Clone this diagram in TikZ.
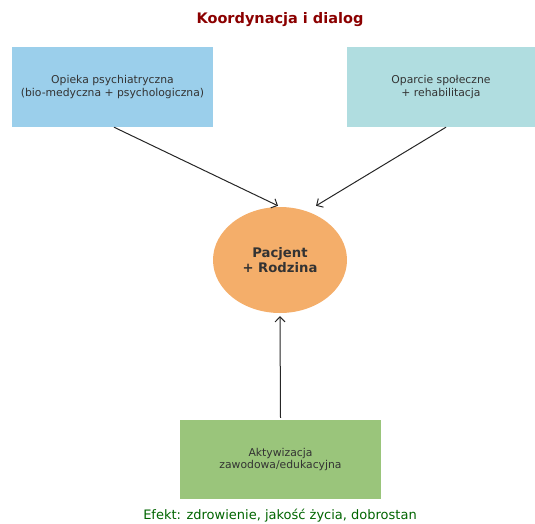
\documentclass[tikz,border=0pt]{standalone}
\usepackage{fontspec}
\setmainfont{DejaVu Sans}
\usetikzlibrary{shapes.geometric, arrows.meta}
\definecolor{psychblue}{HTML}{9BCFEB}
\definecolor{socialblue}{HTML}{B0DDE0}
\definecolor{patientorange}{HTML}{F4AE6A}
\definecolor{workgreen}{HTML}{9AC57B}
\definecolor{titlered}{HTML}{8B0000}
\definecolor{effectgreen}{HTML}{006400}
\definecolor{textgray}{HTML}{333333}
\begin{document}
\begin{tikzpicture}[
  x=1pt, y=-1pt,
  pillar/.style={rectangle, minimum height=80pt, align=center, text=textgray, font=\fontsize{10.8}{12.5}\selectfont},
  core/.style={ellipse, fill=patientorange, minimum width=134pt, minimum height=106pt, align=center, text=textgray, font=\fontsize{13.2}{15}\selectfont\bfseries},
  link/.style={-{Straight Barb[length=5pt, width=10pt]}, draw=black!85, line width=1pt},
]
\useasboundingbox (0,0) rectangle (535,523);
\node[font=\fontsize{14.5}{17}\selectfont\bfseries, text=titlered] (title) at (280,20) {Koordynacja i dialog};
\node[pillar, fill=psychblue, minimum width=201pt] (psych) at (112.5,87) {Opieka psychiatryczna\\(bio-medyczna + psychologiczna)};
\node[pillar, fill=socialblue, minimum width=188pt] (social) at (441,87) {Oparcie społeczne\\+ rehabilitacja};
\node[core] (patient) at (280,260) {Pacjent\\+ Rodzina};
\node[pillar, fill=workgreen, minimum width=201pt, minimum height=79pt] (work) at (280.5,459.5) {Aktywizacja\\zawodowa/edukacyjna};
\node[font=\fontsize{13}{15}\selectfont, text=effectgreen] (effect) at (280,516) {Efekt: zdrowienie, jakość życia, dobrostan};
% connectors
\draw[link] ([xshift=1.5pt]psych.south) -- ([xshift=-2pt, yshift=1pt]patient.north);
\draw[link] ([xshift=5pt]social.south) -- ([xshift=36pt, yshift=1pt]patient.north);
\draw[link] ([yshift=2pt]work.north) -- ([yshift=-3pt]patient.south);
\end{tikzpicture}
\end{document}
